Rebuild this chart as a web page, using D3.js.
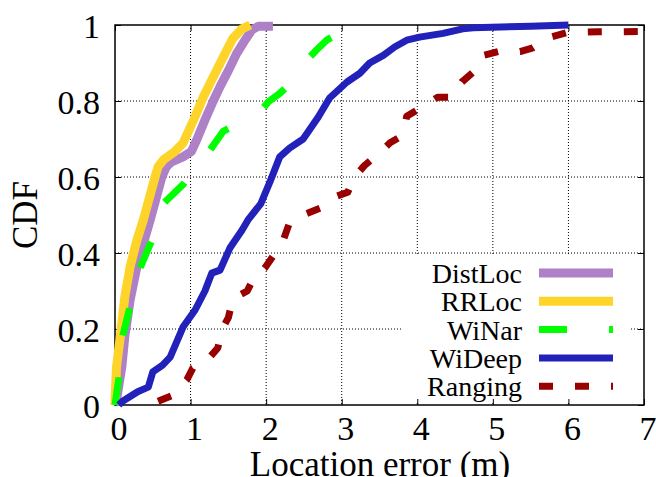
<!DOCTYPE html>
<html>
<head>
<meta charset="utf-8">
<script src="https://cdn.jsdelivr.net/npm/d3@7"></script>
<style>
  body { margin: 0; background: #fff; }
  svg { display: block; font-family: "Liberation Serif", "DejaVu Serif", serif; }
</style>
</head>
<body>
<svg id="chart" width="656" height="477"></svg>
<script>
// CDF of location error
var xTicks = [0, 1, 2, 3, 4, 5, 6, 7];
var yTicks = [0, 0.2, 0.4, 0.6, 0.8, 1];
var yTickLabels = ["0", "0.2", "0.4", "0.6", "0.8", "1"];

var seriesNames = ["DistLoc", "RRLoc", "WiNar", "WiDeep", "Ranging"];

var distLocX = [0, 0.02, 0.09, 0.13, 0.2, 0.29, 0.375, 0.47, 0.62, 0.68, 0.75, 0.9, 1.01, 1.08, 1.19, 1.3, 1.39, 1.5, 1.61, 1.72, 1.81, 1.9, 2.09];
var distLocY = [0, 0.013, 0.1, 0.18, 0.276, 0.364, 0.425, 0.49, 0.6, 0.627, 0.64, 0.653, 0.667, 0.697, 0.75, 0.8, 0.838, 0.88, 0.925, 0.96, 0.987, 0.997, 0.997];

var rrLocX = [0, 0.0, 0.02, 0.07, 0.13, 0.2, 0.29, 0.375, 0.53, 0.57, 0.64, 0.79, 0.9, 1.04, 1.17, 1.28, 1.39, 1.48, 1.56, 1.68, 1.79];
var rrLocY = [0, 0.013, 0.1, 0.18, 0.285, 0.364, 0.434, 0.487, 0.6, 0.627, 0.645, 0.667, 0.689, 0.75, 0.811, 0.855, 0.899, 0.934, 0.965, 0.99, 1.0];

var wiNarX = [0, 0.05, 0.1, 0.2, 0.33, 0.48, 0.64, 0.9, 1.22, 1.43, 1.9, 2.03, 2.18, 2.25, 2.31, 2.69, 2.8, 2.93, 3.0];
var wiNarY = [0, 0.07, 0.18, 0.26, 0.36, 0.43, 0.53, 0.58, 0.66, 0.72, 0.768, 0.798, 0.82, 0.833, 0.86, 0.939, 0.96, 0.974, 0.985];

var wiDeepX = [0.05, 0.1, 0.3, 0.44, 0.5, 0.63, 0.73, 0.9, 1.06, 1.19, 1.28, 1.39, 1.52, 1.68, 1.76, 1.93, 2.05, 2.18, 2.31, 2.49, 2.69, 2.84, 3.07, 3.24, 3.37, 3.55, 3.7, 3.86, 4.03, 4.34, 4.6, 4.74, 5.5, 6.0];
var wiDeepY = [0, 0.01, 0.035, 0.047, 0.087, 0.105, 0.126, 0.205, 0.25, 0.3, 0.347, 0.355, 0.413, 0.46, 0.487, 0.53, 0.587, 0.653, 0.676, 0.7, 0.758, 0.808, 0.85, 0.873, 0.9, 0.92, 0.942, 0.96, 0.968, 0.978, 0.99, 0.993, 0.997, 1.0];

var rangingX = [0.57, 0.77, 0.95, 1.03, 1.23, 1.36, 1.42, 1.5, 1.56, 1.75, 1.85, 1.98, 2.12, 2.22, 2.31, 2.49, 2.74, 2.87, 3.08, 3.17, 3.3, 3.48, 3.64, 3.81, 3.86, 4.03, 4.27, 4.46, 4.59, 4.74, 4.87, 5.07, 5.36, 5.53, 5.73, 5.98, 6.4, 7.0];
var rangingY = [0.01, 0.026, 0.066, 0.097, 0.12, 0.15, 0.2, 0.23, 0.28, 0.3, 0.34, 0.36, 0.4, 0.43, 0.48, 0.5, 0.52, 0.545, 0.56, 0.6, 0.63, 0.66, 0.69, 0.71, 0.76, 0.78, 0.81, 0.81, 0.85, 0.876, 0.92, 0.93, 0.93, 0.94, 0.966, 0.98, 0.982, 0.983];

var colors = ["#ae80c8", "#ffd42a", "#00ff00", "#2222bb", "#990000"];
var widths = [9, 9, 7, 7, 7];
var dashes = [null, null, "28,42", null, "14,22"];

var svg = d3.select("#chart"),
    plotLeft = 115, plotRight = 644, plotTop = 25, plotBottom = 405;

var x = d3.scaleLinear().domain([0, 7]).range([plotLeft, plotRight]);
var y = d3.scaleLinear().domain([0, 1]).range([plotBottom, plotTop]);

function pairs(xs, ys) {
    return xs.map(function(v, i) { return [v, ys[i]]; });
}
var series = [
    pairs(distLocX, distLocY),
    pairs(rrLocX, rrLocY),
    pairs(wiNarX, wiNarY),
    pairs(wiDeepX, wiDeepY),
    pairs(rangingX, rangingY)
];

// grid
var grid = svg.append("g")
    .attr("stroke", "#000")
    .attr("stroke-width", 1)
    .attr("stroke-dasharray", "1,2");
grid.selectAll(".gx")
    .data(xTicks.slice(1, -1))
    .enter().append("line")
    .attr("x1", function(d) { return x(d); })
    .attr("x2", function(d) { return x(d); })
    .attr("y1", plotTop)
    .attr("y2", plotBottom);
grid.selectAll(".gy")
    .data(yTicks.slice(1, -1))
    .enter().append("line")
    .attr("x1", plotLeft)
    .attr("x2", plotRight)
    .attr("y1", function(d) { return y(d); })
    .attr("y2", function(d) { return y(d); });

// legend background hides the grid
svg.append("rect")
    .attr("x", 402).attr("y", 256)
    .attr("width", 228).attr("height", 146)
    .attr("fill", "#fff");

// axes: ticks pointing inward on all four sides
var axB = d3.axisBottom(x).tickValues(xTicks).tickSize(-6).tickFormat("");
var axT = d3.axisTop(x).tickValues(xTicks).tickSize(-6).tickFormat("");
var axL = d3.axisLeft(y).tickValues(yTicks).tickSize(-6).tickFormat("");
var axR = d3.axisRight(y).tickValues(yTicks).tickSize(-6).tickFormat("");
[[axB, "translate(0," + plotBottom + ")"], [axT, "translate(0," + plotTop + ")"],
 [axL, "translate(" + plotLeft + ",0)"], [axR, "translate(" + plotRight + ",0)"]].forEach(function(a) {
    var g = svg.append("g").attr("transform", a[1]).call(a[0]);
    g.select(".domain").remove();
    g.selectAll("line").attr("stroke", "#000").attr("stroke-width", 1);
});
svg.append("rect")
    .attr("x", plotLeft).attr("y", plotTop)
    .attr("width", plotRight - plotLeft).attr("height", plotBottom - plotTop)
    .attr("fill", "none")
    .attr("stroke", "#000")
    .attr("stroke-width", 1.5);

// tick labels
svg.selectAll(".xl")
    .data(xTicks)
    .enter().append("text")
    .attr("x", function(d) { return x(d) + 4; })
    .attr("y", 440)
    .attr("text-anchor", "middle")
    .attr("font-size", 34)
    .text(function(d) { return d; });
svg.selectAll(".yl")
    .data(yTicks)
    .enter().append("text")
    .attr("x", 100)
    .attr("y", function(d) { return y(d) + 13; })
    .attr("text-anchor", "end")
    .attr("font-size", 34)
    .text(function(d, i) { return yTickLabels[i]; });

svg.append("text")
    .attr("x", 380).attr("y", 476)
    .attr("text-anchor", "middle")
    .attr("font-size", 35)
    .text("Location error (m)");
svg.append("text")
    .attr("transform", "translate(37,215) rotate(-90)")
    .attr("text-anchor", "middle")
    .attr("font-size", 35)
    .text("CDF");

// curves
var line = d3.line()
    .x(function(d) { return x(d[0]); })
    .y(function(d) { return y(d[1]); });

svg.selectAll(".curve")
    .data(series)
    .enter().append("path")
    .attr("d", line)
    .attr("fill", "none")
    .attr("stroke", function(d, i) { return colors[i]; })
    .attr("stroke-width", function(d, i) { return widths[i]; })
    .attr("stroke-dasharray", function(d, i) { return dashes[i]; })
    .attr("stroke-linejoin", "round");

// legend
var leg = svg.selectAll(".leg")
    .data(seriesNames)
    .enter().append("g")
    .attr("transform", function(d, i) { return "translate(0," + (273 + i * 28.3) + ")"; });
leg.append("text")
    .attr("x", 522).attr("y", 10)
    .attr("text-anchor", "end")
    .attr("font-size", 28)
    .text(function(d) { return d; });
leg.append("line")
    .attr("x1", 539).attr("x2", 613)
    .attr("y1", 0).attr("y2", 0)
    .attr("stroke", function(d, i) { return colors[i]; })
    .attr("stroke-width", function(d, i) { return widths[i]; })
    .attr("stroke-dasharray", function(d, i) { return dashes[i]; });
</script>
</body>
</html>
